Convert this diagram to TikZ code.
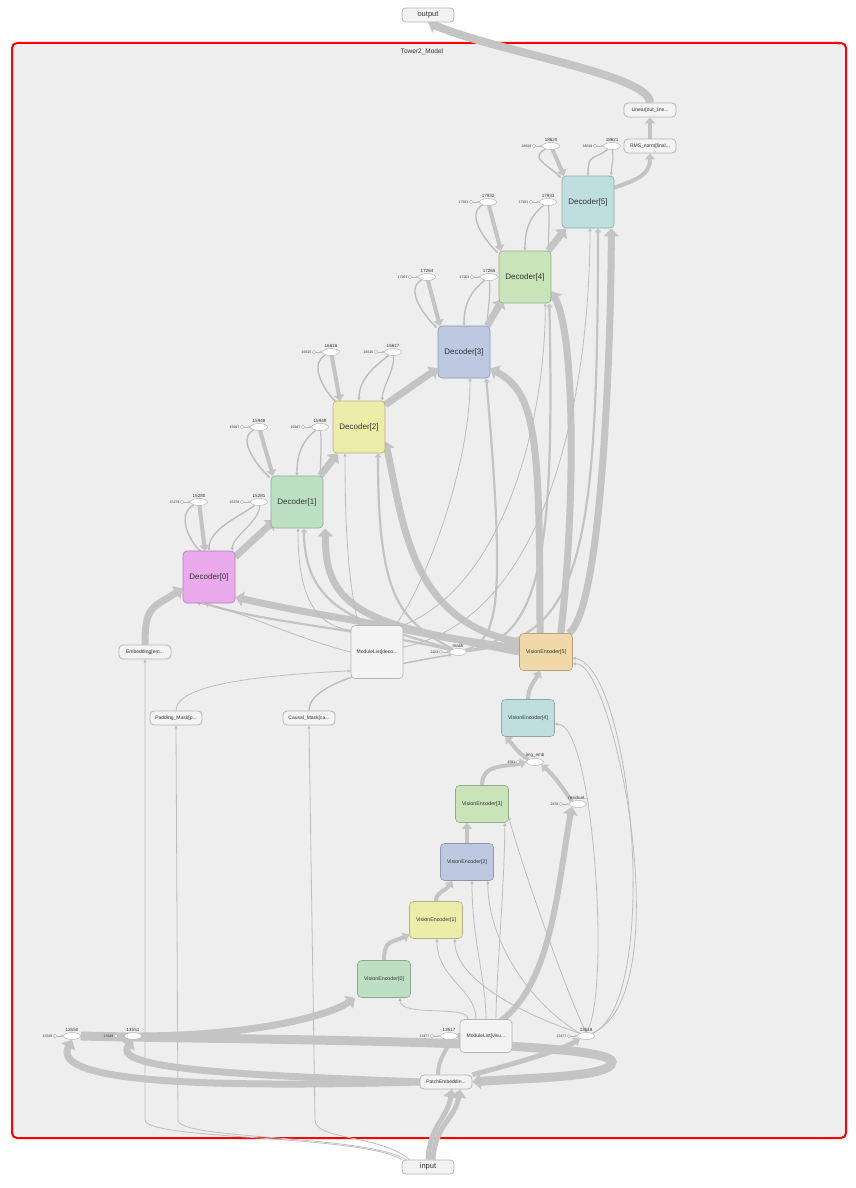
\documentclass[tikz,border=0pt]{standalone}
\usepackage{fontspec}
\setmainfont{Liberation Sans}
\usetikzlibrary{arrows.meta, shapes.geometric, positioning}

\definecolor{edgegray}{HTML}{C4C4C4}
\definecolor{thingray}{HTML}{BDBDBD}
\definecolor{framebg}{HTML}{EEEEEE}
\definecolor{opfill}{HTML}{F3F3F3}
\definecolor{opline}{HTML}{B5B5B5}
\definecolor{txtgray}{HTML}{333333}
\definecolor{pinkdec}{HTML}{EBAAEB}
\definecolor{mintdec}{HTML}{BDE0C5}
\definecolor{yelldec}{HTML}{EEECA9}
\definecolor{bluedec}{HTML}{BEC8E0}
\definecolor{limedec}{HTML}{C8E4B8}
\definecolor{tealdec}{HTML}{BFDFDF}
\definecolor{sanddec}{HTML}{F0D8A8}

\pgfdeclarelayer{bg}
\pgfdeclarelayer{edges}
\pgfsetlayers{bg,edges,main}

\tikzset{
  opbox/.style={draw=opline, fill=opfill, rounded corners=4pt, line width=0.8pt,
    minimum width=52pt, minimum height=14pt, inner sep=0pt, text=txtgray,
    font=\fontsize{5}{6}\selectfont},
  iobox/.style={opbox, font=\fontsize{7.5}{8}\selectfont},
  decbox/.style={draw=#1!75!black, fill=#1, rounded corners=4pt, line width=0.6pt,
    minimum width=52pt, minimum height=52pt, inner sep=0pt, text=txtgray,
    font=\fontsize{8}{9}\selectfont},
  vebox/.style={draw=#1!75!black, fill=#1, rounded corners=4pt, line width=0.6pt,
    minimum width=53pt, minimum height=37pt, inner sep=0pt, text=txtgray,
    font=\fontsize{5.3}{6}\selectfont},
  listbox/.style={draw=opline, fill=opfill, rounded corners=4pt, line width=0.6pt,
    minimum width=52pt, inner sep=0pt, text=txtgray, font=\fontsize{5}{6}\selectfont},
  cst/.style={ellipse, draw=opline, fill=white, line width=0.5pt,
    minimum width=17pt, minimum height=7pt, inner sep=0pt},
  dotnode/.style={circle, draw=opline, fill=white, line width=0.4pt,
    minimum size=3.5pt, inner sep=0pt},
  numlbl/.style={font=\fontsize{4.5}{5}\selectfont, text=txtgray, inner sep=0.5pt},
  tinylbl/.style={font=\fontsize{3.5}{4}\selectfont, text=txtgray, inner sep=0.5pt},
  tinyarrow/.style={draw=opline, line width=0.4pt, -{Triangle[length=2pt, width=2pt]}},
  edgethick/.style={draw=edgegray, line width=7pt, -{Triangle[length=8pt, width=15pt]}},
  edgemid/.style={draw=edgegray, line width=4pt, -{Triangle[length=6pt, width=10pt]}},
  edgemed/.style={draw=edgegray, line width=2.2pt, -{Triangle[length=4pt, width=6pt]}},
  edgethin/.style={draw=thingray, line width=0.8pt, -{Triangle[length=3pt, width=3pt]}},
}

\begin{document}
\begin{tikzpicture}[x=1pt, y=-1pt]
  \useasboundingbox (0,0) rectangle (856,1188);
  \begin{pgfonlayer}{bg}
    \fill[white] (0,0) rectangle (856,1188);
    \draw[red, line width=2pt, fill=framebg, rounded corners=5pt] (12,43) rectangle (846,1138);
  \end{pgfonlayer}
  \node[font=\fontsize{6.5}{7}\selectfont, text=txtgray] (title) at (422,52) {Tower2\_Model};
  \node[font=\fontsize{6}{6}\selectfont, text=txtgray] (fold) at (839,46) {-};

  % ops
  \node[iobox] (out) at (428,15) {output};
  \node[iobox] (inp) at (428,1167) {input};
  \node[opbox] (lin) at (650,110) {Linear[out\_line...};
  \node[opbox] (rms) at (650,146) {RMS\_norm[final...};
  \node[opbox] (emb) at (145,652) {Embedding[em...};
  \node[opbox] (pad) at (176,718) {Padding\_Mask[p...};
  \node[opbox] (causal) at (309,718) {Causal\_Mask[ca...};
  \node[opbox] (patch) at (446,1082) {PatchEmbeddin...};

  % decoders
  \node[decbox=pinkdec] (dec0) at (209,577) {Decoder[0]};
  \node[decbox=mintdec] (dec1) at (297,502) {Decoder[1]};
  \node[decbox=yelldec] (dec2) at (359,427) {Decoder[2]};
  \node[decbox=bluedec] (dec3) at (464,352) {Decoder[3]};
  \node[decbox=limedec] (dec4) at (525,277) {Decoder[4]};
  \node[decbox=tealdec] (dec5) at (588,202) {Decoder[5]};

  % vision encoders
  \node[vebox=mintdec] (ve0) at (384,979) {VisionEncoder[0]};
  \node[vebox=yelldec] (ve1) at (436,920) {VisionEncoder[1]};
  \node[vebox=bluedec] (ve2) at (467,862) {VisionEncoder[2]};
  \node[vebox=limedec] (ve3) at (482,804) {VisionEncoder[3]};
  \node[vebox=tealdec] (ve4) at (528,718) {VisionEncoder[4]};
  \node[vebox=sanddec] (ve5) at (546,652) {VisionEncoder[5]};

  \node[listbox, minimum height=53pt] (mldec) at (377,652) {ModuleList[deco...};
  \node[listbox, minimum height=33pt] (mlvis) at (486,1036) {ModuleList[visu...};

  % constants
  \node[cst, label={[numlbl]above:mask}] (mask) at (458,652) {};
  \node[dotnode, label={[tinylbl]left:2222}] (maskin) at (441,652) {};
  \node[cst, label={[numlbl]above:img\_emb}] (imgemb) at (535,762) {};
  \node[dotnode, label={[tinylbl]left:4581}] (imgin) at (518,762) {};
  \node[cst, label={[numlbl]above:residual...}] (resid) at (578,804) {};
  \node[dotnode, label={[tinylbl]left:2470}] (resin) at (561,804) {};
  \node[cst, label={[numlbl]above:13517}] (c13517) at (449,1036) {};
  \node[dotnode, label={[tinylbl]left:13477}] (c13517in) at (432,1036) {};
  \node[cst, label={[numlbl]above:13518}] (c13518) at (586,1036) {};
  \node[dotnode, label={[tinylbl]left:13477}] (c13518in) at (569,1036) {};
  \node[cst, label={[numlbl]above:13550}] (c13550) at (72,1036) {};
  \node[dotnode, label={[tinylbl]left:13549}] (c13550in) at (55,1036) {};
  \node[cst, label={[numlbl]above:13551}] (c13551) at (133,1036) {};
  \node[dotnode, label={[tinylbl]left:13549}] (c13551in) at (116,1036) {};

  \begin{pgfonlayer}{edges}
    \foreach \a/\b in {maskin/mask, imgin/imgemb, resin/resid, c13517in/c13517,
                       c13518in/c13518, c13550in/c13550, c13551in/c13551}
      \draw[tinyarrow] (\a) -- (\b);
  \end{pgfonlayer}

  % weights of each decoder
  \foreach \d/\xa/\xb/\yy/\top/\ta/\na/\nb/\ns in {
      0/199/259/502/551/205/15280/15281/15279,
      1/259/320/427/476/273/15948/15949/15947,
      2/331/393/352/401/340/16616/16617/16615,
      3/427/489/277/326/440/17264/17265/17263,
      4/488/548/202/251/501/17932/17933/17931,
      5/551/612/146/176/564/18620/18621/18619} {
    \node[cst, label={[numlbl]above:\na}] (ea\d) at (\xa,\yy) {};
    \node[cst, label={[numlbl]above:\nb}] (eb\d) at (\xb,\yy) {};
    \node[dotnode, label={[tinylbl]left:\ns}] (da\d) at (\xa-17,\yy) {};
    \node[dotnode, label={[tinylbl]left:\ns}] (db\d) at (\xb-17,\yy) {};
    \begin{pgfonlayer}{edges}
      \draw[tinyarrow] (da\d) -- (ea\d);
      \draw[tinyarrow] (db\d) -- (eb\d);
      \draw[edgemid] (ea\d) -- (\ta,\top);
      \draw[edgethin, line width=1.4pt] (ea\d) .. controls +(-22,12) and +(-14,-14) .. (\ta-3,\top+2);
      \draw[edgethin, line width=1.4pt] (eb\d) .. controls +(-18,14) and +(0,-22) .. (dec\d.north);
      \draw[edgethin, line width=1.2pt] (eb\d) .. controls +(2,18) and +(0,-14) .. ([xshift=-3pt]dec\d.north east);
    \end{pgfonlayer}
  }

  \begin{pgfonlayer}{edges}
    % top
    \draw[edgethick, line width=8pt] (lin.north) .. controls +(0,-28) and +(70,30) .. (out.south);
    \draw[edgemid] (rms.north) -- (lin.south);
    \draw[edgemid] ([yshift=-12pt]dec5.north east) .. controls +(22,-8) and +(0,22) .. (rms.south);

    % decoder chain
    \draw[edgethick] ([yshift=-6pt]dec0.north east) -- ([xshift=4pt,yshift=8pt]dec1.south west);
    \draw[edgethick] ([xshift=-3pt]dec1.north east) -- ([xshift=5pt]dec2.south west);
    \draw[edgethick] ([yshift=-4pt]dec2.north east) -- ([yshift=10pt]dec3.south west);
    \draw[edgethick] ([xshift=-3pt]dec3.north east) -- ([xshift=4pt,yshift=4pt]dec4.south west);
    \draw[edgethick] ([xshift=-3pt]dec4.north east) -- ([xshift=4pt]dec5.south west);

    % vision output into decoders
    \draw[edgethick] ([xshift=-4pt]ve5.north east) .. controls +(35,-25) and +(0,90) .. ([xshift=-3pt]dec5.south east);
    \draw[edgethick] ([xshift=-12pt]ve5.north east) .. controls +(14,-120) and +(25,45) .. ([yshift=12pt]dec4.south east);
    \draw[edgethick] ([xshift=-6pt]ve5.north) .. controls +(0,-200) and +(45,25) .. ([yshift=10pt]dec3.south east);
    \draw[edgethick] ([yshift=10pt]ve5.west) .. controls +(-110,-20) and +(18,80) .. ([yshift=12pt]dec2.south east);
    \draw[edgethick] ([yshift=4pt]ve5.west) .. controls +(-170,-20) and +(0,70) .. ([xshift=2pt]dec1.south east);
    \draw[edgethick] (ve5.west) .. controls +(-200,-40) and +(90,20) .. ([yshift=6pt]dec0.south east);

    % mask into decoders
    \draw[edgemed] (mask) .. controls (380,632) and (260,622) .. ([xshift=-4pt]dec0.south);
    \draw[edgemed] (mask) .. controls (380,625) and (304,620) .. ([xshift=7pt]dec1.south);
    \draw[edgemed] (mask) .. controls (400,620) and (378,600) .. ([xshift=19pt]dec2.south);
    \draw[edgemed] (mask) .. controls (500,640) and (505,600) .. ([xshift=-4pt]dec3.south east);
    \draw[edgemed] (mask) .. controls (540,640) and (555,560) .. ([xshift=-2pt]dec4.south east);
    \draw[edgemed] (mask) .. controls (580,640) and (598,560) .. ([xshift=10pt]dec5.south);

    % module list into decoders
    \draw[edgethin] (mldec.west) .. controls +(-60,-15) and +(40,5) .. ([xshift=-12pt]dec0.south);
    \draw[edgethin] ([yshift=-5pt]mldec.north west) .. controls +(-40,-5) and +(0,60) .. ([xshift=1pt]dec1.south);
    \draw[edgethin] ([xshift=8pt]mldec.north west) .. controls +(-10,-40) and +(0,80) .. ([xshift=-14pt]dec2.south);
    \draw[edgethin] ([xshift=-8pt]mldec.north east) .. controls +(30,-40) and +(0,90) .. ([xshift=6pt]dec3.south);
    \draw[edgethin] (mldec.north east) .. controls +(100,-40) and +(0,120) .. ([xshift=-6pt]dec4.south east);
    \draw[edgethin] ([yshift=5pt]mldec.east) .. controls +(150,-30) and +(0,150) .. ([xshift=2pt]dec5.south);

    % embedding and masks
    \draw[edgethick] (emb.north) .. controls +(0,-40) and +(-30,20) .. ([yshift=15pt]dec0.south west);
    \draw[edgethin] (pad.north) .. controls +(0,-25) and +(-100,5) .. ([yshift=8pt]mldec.south west);
    \draw[edgethin, line width=1.4pt] (causal.north) .. controls +(0,-30) and +(-60,10) .. (mask.south west);

    % input
    \draw[edgethick, line width=5pt] (inp.north) .. controls +(2,-35) and +(-5,30) .. ([xshift=6pt]patch.south);
    \draw[edgethick, line width=5pt] ([xshift=5pt]inp.north) .. controls +(2,-35) and +(-5,30) .. ([xshift=14pt]patch.south);
    \draw[edgethin] (inp.north west) .. controls +(-40,-25) and +(0,20) .. (145,1120) -- (emb.south);
    \draw[edgethin] ([xshift=4pt]inp.north west) .. controls +(-40,-25) and +(0,20) .. (178,1120) -- (pad.south);
    \draw[edgethin] ([xshift=8pt]inp.north west) .. controls +(-30,-25) and +(0,20) .. (315,1120) -- (causal.south);

    % vision chain
    \draw[edgemid] (ve0.north) .. controls +(0,-20) and +(-18,8) .. ([yshift=4pt]ve1.south west);
    \draw[edgemid] (ve1.north) .. controls +(0,-10) and +(-6,10) .. ([xshift=12pt]ve2.south west);
    \draw[edgemid] (ve2.north) -- (ve2.north |- ve3.south);
    \draw[edgemid] (ve3.north) .. controls +(0,-22) and +(-20,5) .. (imgemb.west);
    \draw[edgemid] (resid.north west) .. controls +(-10,-15) and +(12,10) .. (imgemb.south east);
    \draw[edgemid] (imgemb.north west) .. controls +(-10,-5) and +(8,8) .. ([xshift=4pt]ve4.south west);
    \draw[edgemid] (ve4.north) .. controls +(0,-12) and +(-5,10) .. ([xshift=-6pt]ve5.south);

    % patch embedding loops
    \draw[edgethick, line width=9pt] (c13550.east) .. controls (250,1040) and (612,1040) .. (612,1062)
      .. controls (612,1078) and (520,1078) .. (patch.east);
    \draw[edgethick] (patch.west) .. controls (200,1088) and (50,1082) .. (c13550.south);
    \draw[edgethick] (patch.west) .. controls (250,1075) and (110,1070) .. (c13551.south);
    \draw[edgethick] (c13551.east) .. controls (260,1035) and (330,1015) .. ([xshift=-2pt]ve0.south west);
    \draw[edgemid] ([xshift=-8pt]patch.north) .. controls +(0,-15) and +(-3,12) .. (c13517.south);
    \draw[edgemid, line width=5pt] (patch.north east) .. controls +(40,-10) and +(-15,10) .. (c13518.south west);
    \draw[edgethick, line width=6pt] (c13517.east) .. controls (550,1030) and (555,900) .. (resid.south west);

    % module list / constants into vision encoders
    \draw[edgethin] ([xshift=-18pt]mlvis.north) .. controls +(0,-15) and +(0,20) .. ([xshift=16pt]ve0.south);
    \draw[edgethin] ([xshift=-10pt]mlvis.north) .. controls +(0,-30) and +(0,40) .. ([xshift=1pt]ve1.south);
    \draw[edgethin] (mlvis.north) .. controls +(0,-40) and +(0,60) .. ([xshift=5pt]ve2.south);
    \draw[edgethin] ([xshift=10pt]mlvis.north) .. controls +(0,-40) and +(0,60) .. ([xshift=-4pt]ve3.south east);
    \draw[edgethin] (c13518.north west) .. controls +(-60,-20) and +(0,40) .. ([xshift=-8pt]ve1.south east);
    \draw[edgethin] (c13518.north west) .. controls +(-50,-30) and +(0,60) .. ([xshift=-6pt]ve2.south east);
    \draw[edgethin] (c13518.north) .. controls +(-20,-40) and +(10,40) .. ([yshift=6pt]ve3.south east);
    \draw[edgethin] (c13518.north) .. controls +(25,-30) and +(40,0) .. ([yshift=-6pt]ve4.east);
    \draw[edgethin] (c13518.north east) .. controls +(70,-30) and +(60,10) .. ([yshift=-6pt]ve5.east);
    \draw[edgethin] (c13518.north east) .. controls +(90,-40) and +(40,-5) .. ([yshift=-12pt]ve5.east);
  \end{pgfonlayer}
\end{tikzpicture}
\end{document}
